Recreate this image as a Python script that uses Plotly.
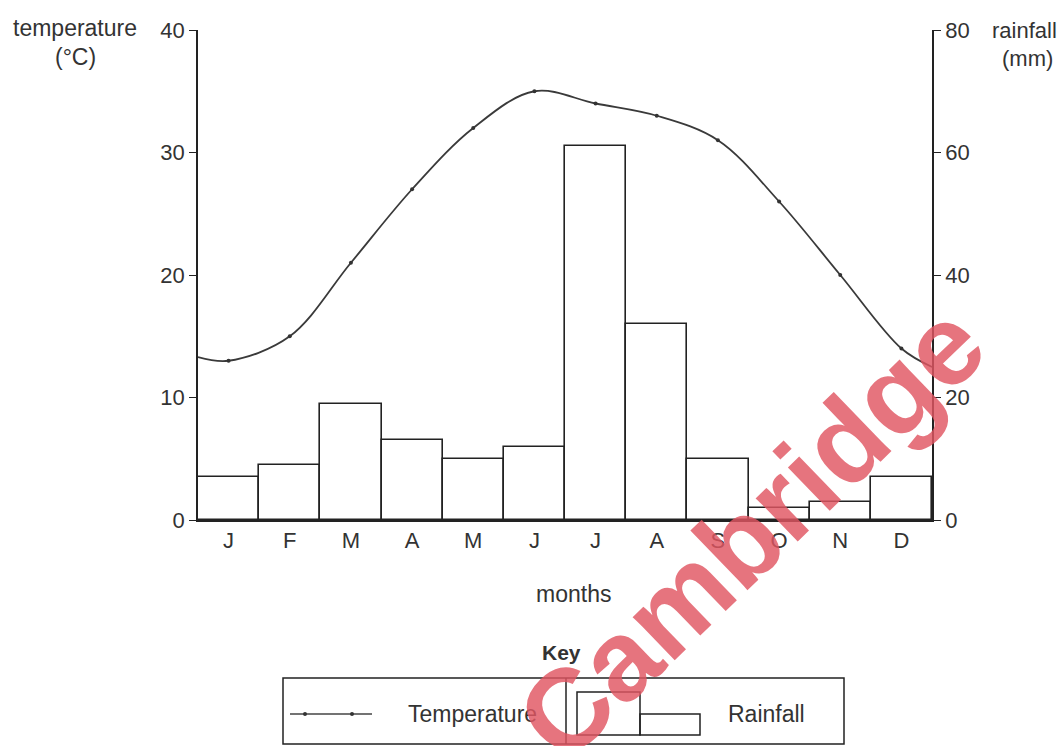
import plotly.graph_objects as go

# ---- data ----
months = ["J", "F", "M", "A", "M", "J", "J", "A", "S", "O", "N", "D"]
temperature_c = [13, 15, 21, 27, 32, 35, 34, 33, 31, 26, 20, 14]
rainfall_mm = [7, 9, 19, 13, 10, 12, 61, 32, 10, 2, 3, 7]
temp_left_edge = 13.3   # where the curve meets the left axis
temp_right_edge = 12.5  # where the curve meets the right axis
temp_ticks = [0, 10, 20, 30, 40]
rain_ticks = [0, 20, 40, 60, 80]

W, H = 1062, 746
L, R, T, B = 198, 932, 30, 520  # plot area in pixels


def px(x):
    return (x - L) / (R - L)


def py(y):
    return (B - y) / (B - T)


FONT = "Liberation Sans, Arial, sans-serif"
TXT = "#333333"
LINE = "#222222"

xs = list(range(len(months)))

fig = go.Figure()

fig.add_trace(go.Bar(
    x=xs, y=rainfall_mm, yaxis="y2", width=1,
    marker=dict(color="white", line=dict(color=LINE, width=1.6)),
    showlegend=False, hoverinfo="skip",
))

curve_x = [-0.5] + xs + [len(months) - 0.5]
curve_y = [temp_left_edge] + temperature_c + [temp_right_edge]
fig.add_trace(go.Scatter(
    x=curve_x, y=curve_y, mode="lines",
    line=dict(color="#3a3a3a", width=1.8, shape="spline", smoothing=1.0),
    showlegend=False, hoverinfo="skip",
))
fig.add_trace(go.Scatter(
    x=xs, y=temperature_c, mode="markers",
    marker=dict(color="#333333", size=4),
    showlegend=False, hoverinfo="skip",
))

shapes = []
# key box
shapes.append(dict(type="rect", xref="paper", yref="paper",
                   x0=px(283), x1=px(844), y0=py(744), y1=py(678),
                   line=dict(color=LINE, width=1.5)))
shapes.append(dict(type="line", xref="paper", yref="paper",
                   x0=px(566), x1=px(566), y0=py(744), y1=py(678),
                   line=dict(color=LINE, width=1.5)))
# temperature key sample
shapes.append(dict(type="line", xref="paper", yref="paper",
                   x0=px(290), x1=px(372), y0=py(714), y1=py(714),
                   line=dict(color="#444444", width=1.5)))
for cx in (305, 352):
    shapes.append(dict(type="circle", xref="paper", yref="paper",
                       x0=px(cx - 2), x1=px(cx + 2), y0=py(716), y1=py(712),
                       fillcolor="#333333", line=dict(color="#333333", width=0)))
# rainfall key sample
shapes.append(dict(type="rect", xref="paper", yref="paper",
                   x0=px(577), x1=px(640), y0=py(735), y1=py(692),
                   line=dict(color=LINE, width=1.5)))
shapes.append(dict(type="rect", xref="paper", yref="paper",
                   x0=px(640), x1=px(700), y0=py(735), y1=py(714),
                   line=dict(color=LINE, width=1.5)))

def ann(text, x, y, size=22, **kw):
    d = dict(text=text, xref="paper", yref="paper", x=px(x), y=py(y),
             showarrow=False, font=dict(family=FONT, size=size, color=TXT),
             xanchor="center", yanchor="middle")
    d.update(kw)
    return d

annotations = [
    ann("temperature", 75, 28, 23),
    ann("(°C)", 75, 57, 23),
    ann("rainfall", 1024, 30, 22),
    ann("(mm)", 1027, 58, 22),
    ann("months", 573, 594, 23),
    ann("<b>Key</b>", 561, 652, 21),
    ann("Temperature", 472, 714, 23),
    ann("Rainfall", 766, 714, 23),
    dict(text="<b>Cambridge</b>", xref="paper", yref="paper",
         x=px(750), y=py(532), showarrow=False, textangle=-44,
         font=dict(family=FONT, size=114, color="rgba(224,86,98,0.82)"),
         xanchor="center", yanchor="middle"),
]

fig.update_layout(
    width=W, height=H,
    margin=dict(l=L, r=W - R, t=T, b=H - B),
    paper_bgcolor="white", plot_bgcolor="white",
    showlegend=False, bargap=0,
    shapes=shapes, annotations=annotations,
    xaxis=dict(range=[-0.5, len(months) - 0.5], tickvals=xs, ticktext=months,
               showgrid=False, zeroline=False, showline=True,
               linecolor=LINE, linewidth=1.6, ticks="",
               tickfont=dict(family=FONT, size=22, color=TXT)),
    yaxis=dict(range=[0, 40], tickvals=temp_ticks, showgrid=False,
               zeroline=False, showline=True, linecolor=LINE, linewidth=1.6,
               ticks="outside", ticklen=7, tickcolor=LINE, tickwidth=1.4,
               tickfont=dict(family=FONT, size=22, color=TXT)),
    yaxis2=dict(range=[0, 80], tickvals=rain_ticks, overlaying="y",
                side="right", showgrid=False, zeroline=False, showline=True,
                linecolor=LINE, linewidth=1.6, ticks="outside", ticklen=7,
                tickcolor=LINE, tickwidth=1.4,
                tickfont=dict(family=FONT, size=22, color=TXT)),
)

fig.write_html(
    "out.html",
    config={"displayModeBar": False},
    post_script="document.body.style.margin='0';document.body.style.overflow='hidden';",
)
